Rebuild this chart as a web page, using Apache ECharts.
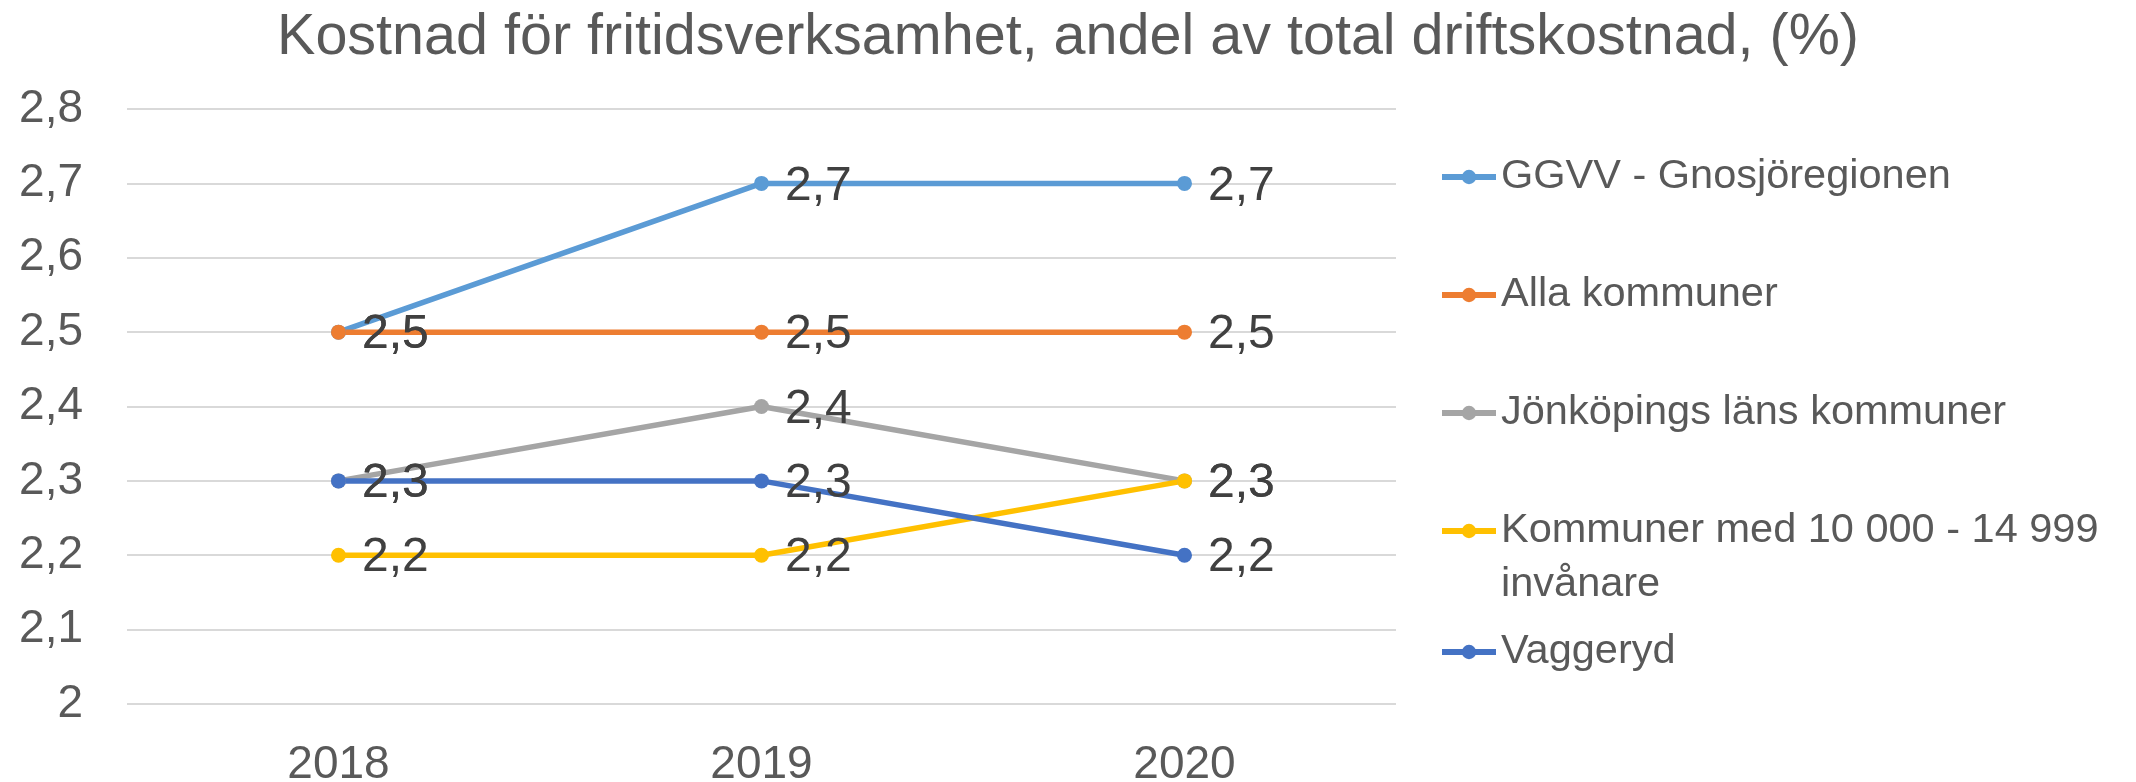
<!DOCTYPE html>
<html>
<head>
<meta charset="utf-8">
<script src="https://cdn.jsdelivr.net/npm/echarts@6/dist/echarts.min.js"></script>
<style>
  html, body { margin: 0; padding: 0; background: #fff; }
  #chart { width: 2136px; height: 782px; }
</style>
</head>
<body>
<div id="chart"></div>
<script>
// data
var years = ['2018', '2019', '2020'];
var seriesNames = [
  'GGVV - Gnosjöregionen',
  'Alla kommuner',
  'Jönköpings läns kommuner',
  'Kommuner med 10 000 - 14 999 invånare',
  'Vaggeryd'
];
var ggvv = [2.5, 2.7, 2.7];
var allaKommuner = [2.5, 2.5, 2.5];
var jonkopingsLan = [2.3, 2.4, 2.3];
var kommuner10000 = [2.2, 2.2, 2.3];
var vaggeryd = [2.3, 2.3, 2.2];
var colors = ['#5B9BD5', '#ED7D31', '#A5A5A5', '#FFC000', '#4472C4'];
var legendCenters = [177, 295, 413, 531, 652];

var values = [ggvv, allaKommuner, jonkopingsLan, kommuner10000, vaggeryd];
var font = '"Liberation Sans", Arial, sans-serif';

function comma(v) {
  return String(v).replace('.', ',');
}

var myChart = echarts.init(document.getElementById('chart'));

var legends = seriesNames.map(function (name, i) {
  var twoLines = i === 3;
  return {
    data: [name],
    orient: 'vertical',
    left: 1439,
    top: twoLines ? legendCenters[i] - 81 : legendCenters[i] - 27,
    padding: 0,
    itemWidth: 54,
    itemHeight: 18,
    lineStyle: { width: 6 },
    formatter: function (n) {
      // blank first line keeps the icon level with the first text line
      return twoLines ? '\nKommuner med 10 000 - 14 999\ninvånare' : n;
    },
    textStyle: {
      color: '#595959',
      fontSize: 41.5,
      fontFamily: font,
      lineHeight: 54
    }
  };
});

myChart.setOption({
  animation: false,
  title: {
    text: 'Kostnad för fritidsverksamhet, andel av total driftskostnad, (%)',
    left: 'center',
    top: 9,
    padding: 0,
    textStyle: {
      color: '#595959',
      fontSize: 57.5,
      fontWeight: 'normal',
      fontFamily: font
    }
  },
  legend: legends,
  grid: {
    left: 127,
    right: 740,
    top: 109,
    bottom: 78,
    containLabel: false,
    outerBoundsMode: 'none'
  },
  xAxis: {
    type: 'category',
    data: years,
    boundaryGap: true,
    axisLine: { show: false },
    axisTick: { show: false },
    axisLabel: {
      color: '#595959',
      fontSize: 46,
      fontFamily: font,
      margin: 38
    }
  },
  yAxis: {
    type: 'value',
    min: 2,
    max: 2.8,
    interval: 0.1,
    axisLine: { show: false },
    axisTick: { show: false },
    splitLine: {
      lineStyle: { color: '#D9D9D9', width: 2 }
    },
    axisLabel: {
      color: '#595959',
      fontSize: 46,
      fontFamily: font,
      margin: 44,
      formatter: function (v) {
        return comma(Math.round(v * 10) / 10);
      }
    }
  },
  series: seriesNames.map(function (name, i) {
    return {
      name: name,
      type: 'line',
      data: values[i],
      color: colors[i],
      symbol: 'circle',
      symbolSize: 15,
      lineStyle: { width: 5.5, color: colors[i] },
      itemStyle: { color: colors[i] },
      label: {
        show: true,
        position: 'right',
        distance: 16,
        offset: [0, 3],
        color: '#404040',
        fontSize: 48,
        fontFamily: font,
        formatter: function (p) { return comma(p.value); }
      }
    };
  })
});
</script>
</body>
</html>
